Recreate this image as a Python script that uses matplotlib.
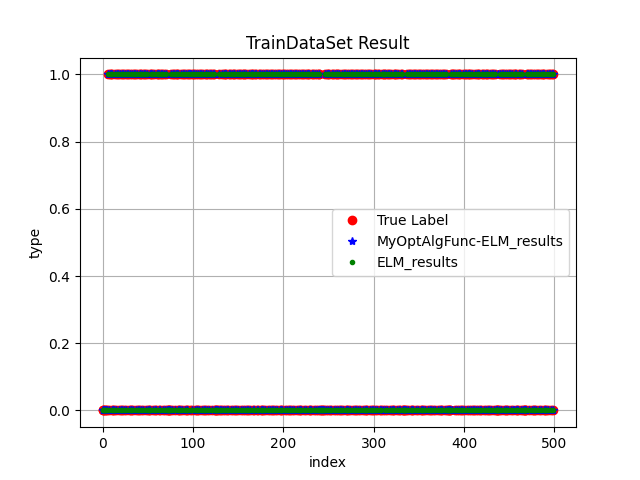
import numpy as np
import matplotlib
matplotlib.use('Agg')
import matplotlib.pyplot as plt

# True labels of the training set, 10 samples per line
true_label_str = (
    "0000001011" "0100101101" "0011010110" "1001011010" "0110101101"
    "0010110100" "1101011010" "1000001011" "0110100101" "1010011010"
    "1101001011" "0100110101" "1011000001" "0010110100" "1101011001"
    "0110101101" "0010110101" "1001101001" "0110101100" "1010110100"
    "1101010011" "0101101001" "0110101101" "0011010101" "1000001011"
    "0100110101" "1010010110" "1001011010" "0110101101" "0010110100"
    "1101011001" "0110101101" "0010110100" "1100000101" "1010011010"
    "1101001011" "0100110101" "1010010110" "1000001111" "0101101001"
    "0110101101" "0010110100" "1101011001" "0110100000" "1011010010"
    "1101011010" "0110100000" "1101101001" "0110101101" "0010110101"
)
true_label = np.array([int(c) for c in true_label_str])

# indices where each model disagrees with the true label
myopt_wrong = [97, 240, 387, 438, 455]
elm_wrong = [52, 240, 310, 387]

myopt_pred = true_label.copy()
myopt_pred[myopt_wrong] = 1 - myopt_pred[myopt_wrong]
elm_pred = true_label.copy()
elm_pred[elm_wrong] = 1 - elm_pred[elm_wrong]

index = np.arange(len(true_label))

plt.figure(figsize=(6.4, 4.8))
plt.plot(index, true_label, 'ro', label='True Label')
plt.plot(index, myopt_pred, 'b*', label='MyOptAlgFunc-ELM_results')
plt.plot(index, elm_pred, 'g.', label='ELM_results')
plt.title('TrainDataSet Result')
plt.xlabel('index')
plt.ylabel('type')
plt.legend(loc='center right')
plt.grid()
plt.savefig('out.png', dpi=100)
